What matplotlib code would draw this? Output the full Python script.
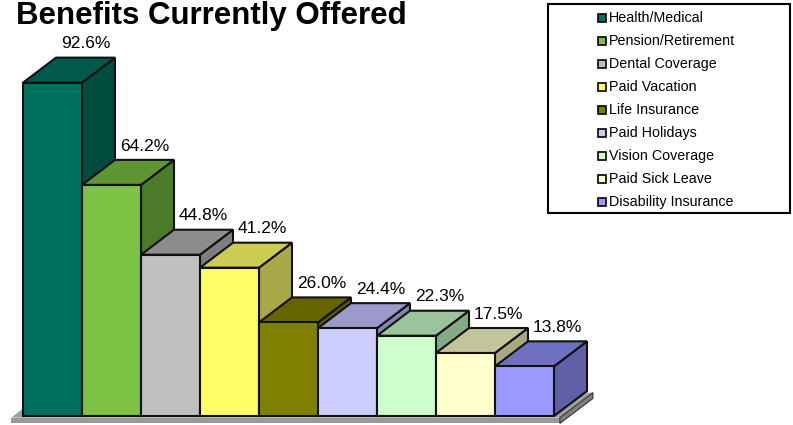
import matplotlib
matplotlib.use("Agg")
import matplotlib.pyplot as plt
from matplotlib.patches import Polygon, Rectangle

plt.rcParams['font.family'] = ['Liberation Sans', 'DejaVu Sans']

# donnees
categories = ["Health/Medical", "Pension/Retirement", "Dental Coverage", "Paid Vacation",
              "Life Insurance", "Paid Holidays", "Vision Coverage", "Paid Sick Leave",
              "Disability Insurance"]
values = [92.6, 64.2, 44.8, 41.2, 26.0, 24.4, 22.3, 17.5, 13.8]
labels = ["92.6%", "64.2%", "44.8%", "41.2%", "26.0%", "24.4%", "22.3%", "17.5%", "13.8%"]

# couleurs : face avant, dessus, cote
front_colors = ["#00705F", "#7DC242", "#C0C0C0", "#FFFF66", "#808000",
                "#CCCCFF", "#CCFFCC", "#FFFFCC", "#9999FF"]
top_colors = ["#005A4B", "#5E9632", "#8C8C8C", "#CCCC55", "#666600",
              "#9A9ACC", "#9CC49C", "#C4C49C", "#7070C2"]
side_colors = ["#004D40", "#4B7A28", "#7E7E7E", "#A8A848", "#585800",
               "#8585B5", "#84AA84", "#A8A884", "#6060A8"]

W, H = 793, 425
fig = plt.figure(figsize=(W / 100, H / 100), dpi=100)

# axe principal : x en barres, y en pourcent
ax = fig.add_axes([0, 0, 1, 1])
pitch = 59.0      # px par barre
scale = 3.6       # px par pourcent
x0_px, base_px = 23.0, 416.0
xmin = -x0_px / pitch
ax.set_xlim(xmin, xmin + W / pitch)
ax.set_ylim((base_px - H) / scale, base_px / scale)
ax.axis('off')

dx = 33.0 / pitch
dy = 25.0 / scale
edge = "#111111"
lw = 1.5

# plancher
fx0, fx1, fy = -0.2, len(values) + 0.1, -0.45
th = 1.6
ax.add_patch(Polygon([(fx0, fy), (fx1, fy), (fx1 + dx, fy + dy), (fx0 + dx, fy + dy)],
                     closed=True, facecolor="#A0A0A0", edgecolor="none", zorder=1))
ax.add_patch(Polygon([(fx0, fy - th), (fx1, fy - th), (fx1, fy), (fx0, fy)],
                     closed=True, facecolor="#999999", edgecolor="none", zorder=1))
ax.add_patch(Polygon([(fx1, fy - th), (fx1 + dx, fy - th + dy), (fx1 + dx, fy + dy), (fx1, fy)],
                     closed=True, facecolor="#808080", edgecolor="#333333", lw=0.8, zorder=1))

# barres 3D
for i, v in enumerate(values):
    xl, xr = i, i + 1
    z = 2 + i
    side = [(xr, 0), (xr + dx, dy), (xr + dx, v + dy), (xr, v)]
    top = [(xl, v), (xr, v), (xr + dx, v + dy), (xl + dx, v + dy)]
    front = [(xl, 0), (xr, 0), (xr, v), (xl, v)]
    ax.add_patch(Polygon(side, closed=True, facecolor=side_colors[i], edgecolor=edge, lw=lw, zorder=z))
    ax.add_patch(Polygon(top, closed=True, facecolor=top_colors[i], edgecolor=edge, lw=lw, zorder=z))
    ax.add_patch(Polygon(front, closed=True, facecolor=front_colors[i], edgecolor=edge, lw=lw, zorder=z))
    ax.text(xl + 0.5 + dx, v + dy + 2.6, labels[i], ha='center', va='baseline',
            fontsize=12.5, color='black', zorder=20)

# titre
fig.text(211 / W, 1 - 24 / H, "Benefits Currently Offered", ha='center', va='baseline',
         fontsize=22.5, fontweight='bold')

# legende
lg = fig.add_axes([0, 0, 1, 1])
lg.set_xlim(0, W)
lg.set_ylim(H, 0)
lg.axis('off')
lg.patch.set_alpha(0)
lg.add_patch(Rectangle((548, 4), 242, 209, facecolor='white', edgecolor='black', lw=1.5))
for k, name in enumerate(categories):
    yc = 18 + 23 * k
    lg.add_patch(Rectangle((598, yc - 4), 8, 8, facecolor=front_colors[k],
                           edgecolor='black', lw=1.2))
    lg.text(609, yc, name, ha='left', va='center', fontsize=10.3)

fig.savefig("out.png", dpi=100)
